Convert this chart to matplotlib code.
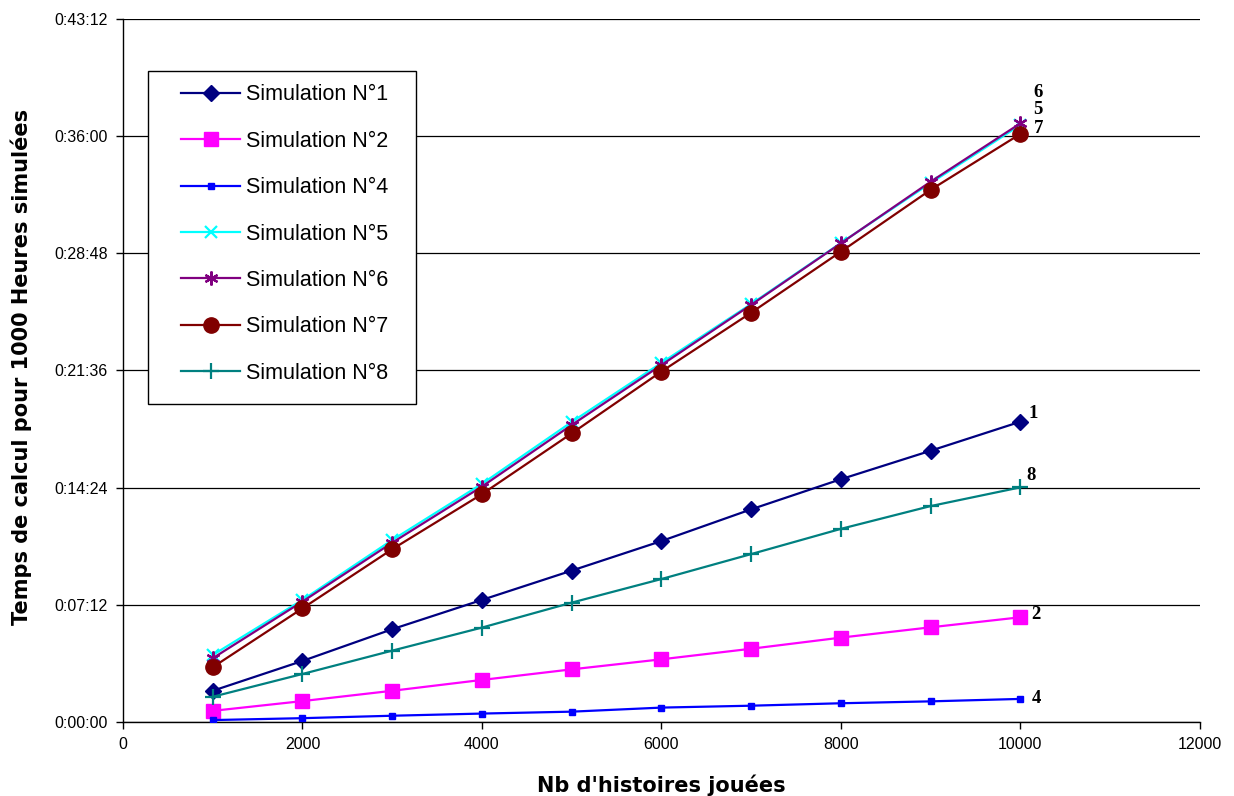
import matplotlib
matplotlib.use("Agg")
import matplotlib.pyplot as plt
from matplotlib.patches import Rectangle
from matplotlib.ticker import FuncFormatter, MultipleLocator

# ------------------------
# Data (seconds of computing time per 1000 simulated hours)
# ------------------------
nb_histoires = [1000, 2000, 3000, 4000, 5000, 6000, 7000, 8000, 9000, 10000]

sim1 = [115, 225, 342, 450, 558, 667, 784, 895, 1000, 1107]
sim2 = [41, 77, 115, 155, 194, 231, 270, 311, 349, 386]
sim4 = [7, 14, 23, 31, 38, 53, 60, 69, 76, 85]
sim5 = [247, 450, 671, 878, 1106, 1324, 1541, 1766, 1987, 2201]
sim6 = [235, 444, 661, 868, 1095, 1316, 1538, 1765, 1992, 2207]
sim7 = [202, 419, 637, 840, 1064, 1292, 1509, 1734, 1962, 2168]
sim8 = [93, 177, 263, 348, 440, 527, 619, 712, 796, 865]

series_names = ["Simulation N°1", "Simulation N°2", "Simulation N°4",
                "Simulation N°5", "Simulation N°6", "Simulation N°7",
                "Simulation N°8"]
end_labels = ["1", "2", "4", "5", "6", "7", "8"]

# style per series: colour, marker, marker size, end-label offset (points)
styles = [
    ("#000080", "D", 8, (9, 6)),
    ("#FF00FF", "s", 10, (11.5, 2)),
    ("#0000FF", "s", 5, (11.5, 0)),
    ("#00FFFF", "x", 9, (13, 11)),
    ("#800080", (6, 2, 0), 10, (13, 22)),
    ("#800000", "o", 11, (13, 4)),
    ("#008080", "+", 11, (7.5, 8.5)),
]

all_series = [sim1, sim2, sim4, sim5, sim6, sim7, sim8]


def hms(v, pos):
    v = int(round(v))
    return "%d:%02d:%02d" % (v // 3600, (v % 3600) // 60, v % 60)


fig = plt.figure(figsize=(12.34, 7.96), dpi=100)
ax = fig.add_axes([0.0997, 0.0930, 0.8725, 0.8831])

for vals, name, lab, (col, mk, ms, off) in zip(all_series, series_names, end_labels, styles):
    mew = 1.6 if mk in ("x", "+") or isinstance(mk, tuple) else 1.0
    ax.plot(nb_histoires, vals, color=col, lw=1.6, marker=mk, markersize=ms,
            markerfacecolor=col, markeredgecolor=col, markeredgewidth=mew,
            label=name, zorder=3)
    ax.annotate(lab, xy=(nb_histoires[-1], vals[-1]), xytext=off,
                textcoords="offset points", ha="center", va="center",
                fontsize=13.5, fontweight="bold", family="Liberation Serif")

ax.set_xlim(0, 12000)
ax.set_ylim(0, 2592)
ax.xaxis.set_major_locator(MultipleLocator(2000))
ax.yaxis.set_major_locator(MultipleLocator(432))
ax.yaxis.set_major_formatter(FuncFormatter(hms))

ax.grid(axis="y", color="black", lw=0.9)
ax.set_axisbelow(True)
for s in ("top", "right"):
    ax.spines[s].set_visible(False)
for s in ("left", "bottom"):
    ax.spines[s].set_linewidth(1.0)

ax.tick_params(direction="out", length=5, width=1, labelsize=11.5, pad=6)
for t in ax.get_xticklabels() + ax.get_yticklabels():
    t.set_family("Liberation Sans")

ax.set_xlabel("Nb d'histoires jouées", fontsize=15, fontweight="bold",
              family="DejaVu Sans", labelpad=16)
ax.set_ylabel("Temps de calcul pour 1000 Heures simulées", fontsize=15,
              fontweight="bold", family="DejaVu Sans")
ax.yaxis.set_label_coords(-0.085, 0.505)

# legend box drawn separately so the padding matches the original
ax.add_patch(Rectangle((0.0232, 0.4523), 0.2491, 0.4737, transform=ax.transAxes,
                       facecolor="white", edgecolor="black", lw=1.0, zorder=4))
leg = ax.legend(loc="upper left", bbox_to_anchor=(0.0539, 0.907),
                borderaxespad=0, frameon=False,
                prop={"family": "Liberation Sans", "size": 15.5},
                handlelength=2.75, handletextpad=0.25, labelspacing=1.18,
                borderpad=0)
leg.set_zorder(5)

fig.savefig("out.png", dpi=100)
